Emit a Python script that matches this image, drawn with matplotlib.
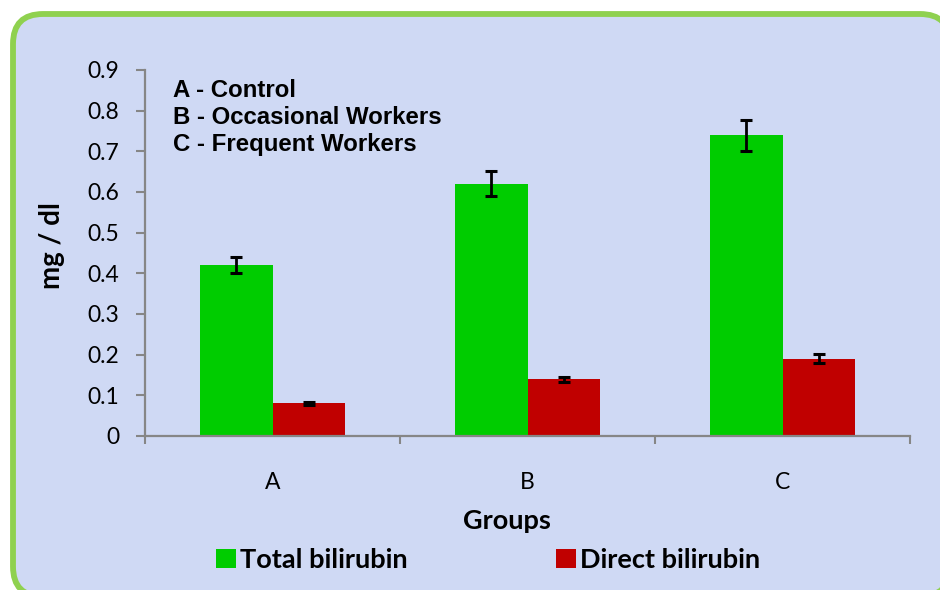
import matplotlib
matplotlib.use("Agg")
import matplotlib.pyplot as plt
from matplotlib.patches import FancyBboxPatch, Patch
import numpy as np

groups = ["A", "B", "C"]
total = [0.42, 0.62, 0.74]
total_err = [0.02, 0.031, 0.038]
direct = [0.08, 0.14, 0.19]
direct_err = [0.003, 0.006, 0.011]
yticks = [0, 0.1, 0.2, 0.3, 0.4, 0.5, 0.6, 0.7, 0.8, 0.9]
ytick_labels = ["0", "0.1", "0.2", "0.3", "0.4", "0.5", "0.6", "0.7", "0.8", "0.9"]
notes = ["A - Control", "B - Occasional Workers", "C - Frequent Workers"]
series_names = ["Total bilirubin", "Direct bilirubin"]

GREEN = "#00CC00"
RED = "#C00000"
BG = "#CFD9F4"
BORDER = "#8FD14F"
AXIS = "#868686"

W, H = 940, 590
fig = plt.figure(figsize=(W / 100, H / 100), dpi=100)
fig.patch.set_facecolor("white")

# rounded background panel with green border (coordinates in inches)
x0, x1 = 0.13, 9.50
y0, y1 = -0.065, 5.76
r = 0.3
panel = FancyBboxPatch((x0 + r, y0 + r), (x1 - x0) - 2 * r, (y1 - y0) - 2 * r,
                       boxstyle="round,pad=%g" % r, transform=fig.dpi_scale_trans,
                       facecolor=BG, edgecolor=BORDER, linewidth=4.2, zorder=-5)
fig.patches.append(panel)

ax = fig.add_axes([145 / W, 1 - 436 / H, (910 - 145) / W, (436 - 70) / H])
ax.patch.set_alpha(0)

x = np.arange(len(groups))
bw = 0.286
ax.bar(x - bw / 2, total, bw, color=GREEN, zorder=2)
ax.bar(x + bw / 2, direct, bw, color=RED, zorder=2)
ax.errorbar(x - bw / 2, total, yerr=total_err, fmt="none", ecolor="black",
            elinewidth=2, capsize=4.5, capthick=2.2, zorder=3)
ax.errorbar(x + bw / 2, direct, yerr=direct_err, fmt="none", ecolor="black",
            elinewidth=2, capsize=4.5, capthick=2.2, zorder=3)

ax.set_xlim(-0.5, 2.5)
ax.set_ylim(0, 0.9)
for s in ["top", "right"]:
    ax.spines[s].set_visible(False)
for s in ["left", "bottom"]:
    ax.spines[s].set_color(AXIS)
    ax.spines[s].set_linewidth(1.6)

ax.set_yticks(yticks)
ax.set_yticklabels(ytick_labels, fontfamily="Lato", fontsize=16.5)
ax.tick_params(axis="y", length=6.5, width=1.5, color=AXIS, pad=12)

ax.set_xticks([-0.5, 0.5, 1.5, 2.5])
ax.set_xticklabels([])
ax.tick_params(axis="x", which="major", length=6, width=1.5, color=AXIS, direction="out")
ax.set_xticks(x, minor=True)
ax.set_xticklabels(groups, minor=True, fontfamily="Lato", fontsize=16.5)
ax.tick_params(axis="x", which="minor", length=0, pad=26)

fig.text(52 / W, 1 - 246 / H, "mg / dl", rotation=90, ha="center", va="center",
         fontfamily="Lato", fontweight="bold", fontsize=20)
fig.text(507 / W, 1 - 521 / H, "Groups", ha="center", va="center",
         fontfamily="Lato", fontweight="bold", fontsize=19.5)

for i, t in enumerate(notes):
    ax.text(0.037, (1 - (97 + 27 * i - 70) / 366), t, transform=ax.transAxes,
            ha="left", va="baseline", fontfamily="Liberation Sans",
            fontweight="bold", fontsize=17.3)

handles = [Patch(facecolor=GREEN), Patch(facecolor=RED)]
leg = fig.legend(handles, series_names, loc="center", ncol=2,
                 bbox_to_anchor=(488 / W, 1 - 560 / H), frameon=False,
                 prop={"family": "Lato", "weight": "bold", "size": 19.5},
                 handlelength=0.72, handleheight=0.72, handletextpad=0.15,
                 columnspacing=5.5, borderaxespad=0)

fig.savefig("out.png", dpi=100)
